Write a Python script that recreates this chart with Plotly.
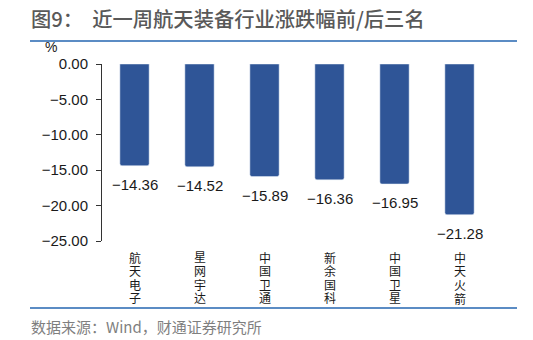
import plotly.graph_objects as go

categories = ["航天电子", "星网宇达", "中国卫通", "新余国科", "中国卫星", "中天火箭"]
values = [-14.36, -14.52, -15.89, -16.36, -16.95, -21.28]
y_ticks = [0, -5, -10, -15, -20, -25]

labels = [f"{v:.2f}".replace("-", "\u2212") for v in values]
ytick_text = [f"{v:.2f}".replace("-", "\u2212") for v in y_ticks]

FONT = "Liberation Sans, Arial, Noto Sans CJK SC, sans-serif"
CJK = "Noto Sans CJK SC, Liberation Sans, sans-serif"

L, T, W, H = 102, 64, 390, 177
def px(x):
    return (x - L) / W
def py(y):
    return 1 - (y - T) / H

fig = go.Figure()
fig.add_trace(go.Bar(
    x=categories, y=values, width=0.45,
    marker=dict(color="#2F5597", cornerradius=2),
    cliponaxis=False,
))

annotations = []
# value labels under each bar
for c, v, t in zip(categories, values, labels):
    annotations.append(dict(x=c, y=v, xref="x", yref="y", text=t, showarrow=False,
                            xanchor="center", yanchor="top", yshift=-8,
                            font=dict(family=FONT, size=15, color="#1a1a1a")))
# vertical category labels, one character per line
for c in categories:
    for j, ch in enumerate(c):
        annotations.append(dict(x=c, y=0, xref="x", yref="paper", text=ch, showarrow=False,
                                xanchor="center", yanchor="middle",
                                yshift=-(258 - 241) - j * 13.8,
                                font=dict(family=FONT, size=12, color="#1a1a1a")))
annotations += [
    dict(text="图9：  近一周航天装备行业涨跌幅前/后三名", xref="paper", yref="paper",
         x=px(29), y=py(18), xanchor="left", yanchor="middle",
         showarrow=False, font=dict(family=CJK, size=20.3, color="#595959", weight=500)),
    dict(text="%", xref="paper", yref="paper", x=px(51), y=py(47),
         xanchor="center", yanchor="middle", showarrow=False,
         font=dict(family=FONT, size=14, color="#1a1a1a")),
    dict(text="数据来源：Wind，财通证券研究所", xref="paper", yref="paper",
         x=px(29), y=py(326), xanchor="left", yanchor="middle",
         showarrow=False, font=dict(family=CJK, size=15, color="#7f7f7f")),
]

fig.update_layout(
    width=533, height=340,
    margin=dict(l=L, r=533 - L - W, t=T, b=340 - T - H),
    paper_bgcolor="white", plot_bgcolor="white",
    showlegend=False,
    xaxis=dict(showticklabels=False, showline=False, ticks="", showgrid=False),
    yaxis=dict(
        range=[-25, 0], tickmode="array", tickvals=y_ticks, ticktext=ytick_text,
        showline=True, linecolor="#333333", linewidth=1,
        ticks="outside", ticklen=5, tickcolor="#333333",
        showgrid=False, zeroline=False, ticklabelstandoff=5,
        tickfont=dict(family=FONT, size=15, color="#1a1a1a"),
    ),
    annotations=annotations,
    shapes=[
        dict(type="line", xref="paper", yref="paper", x0=px(30), x1=px(517),
             y0=py(41), y1=py(41), line=dict(color="#2466B0", width=1.5)),
        dict(type="line", xref="paper", yref="paper", x0=px(30), x1=px(517),
             y0=py(308), y1=py(308), line=dict(color="#2466B0", width=1.5)),
    ],
)

fig.write_html("out.html")
